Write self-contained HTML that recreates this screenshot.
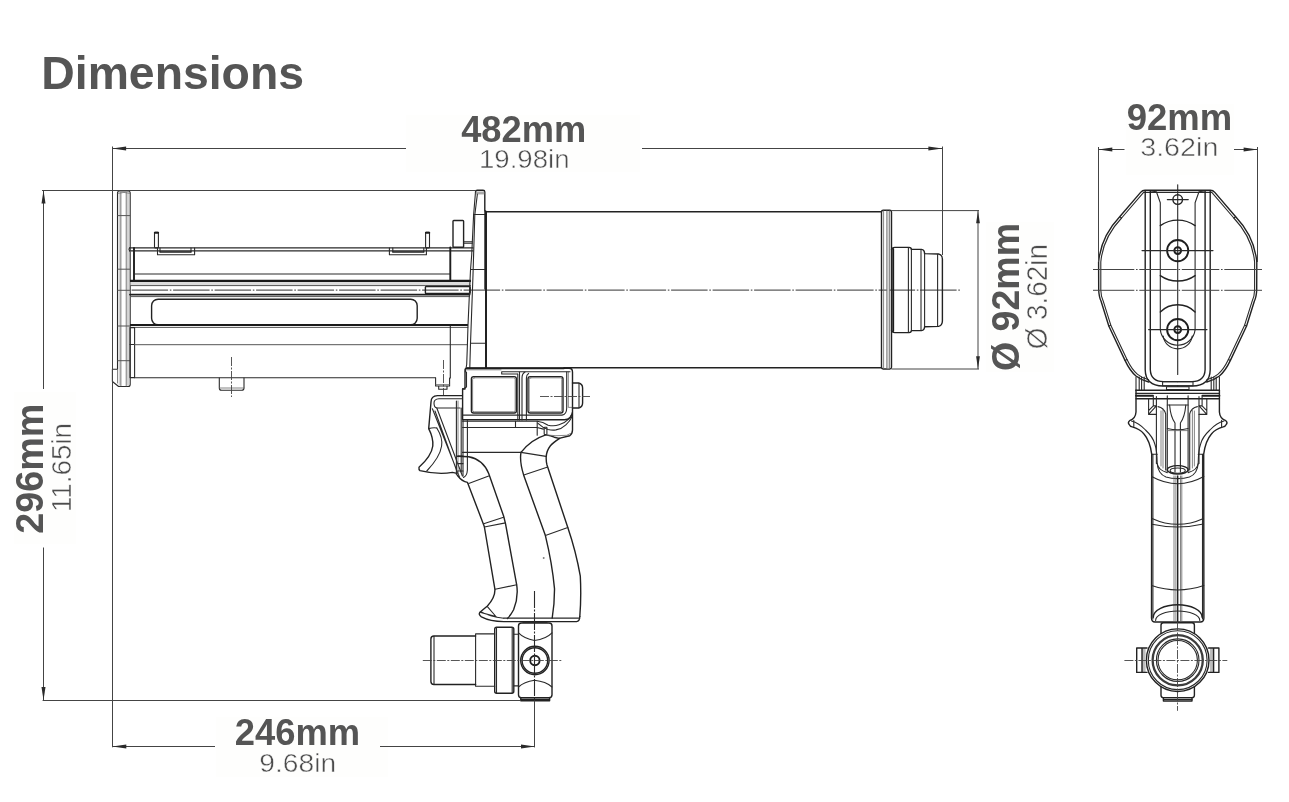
<!DOCTYPE html>
<html lang="en">
<head>
<meta charset="utf-8">
<title>Dimensions</title>
<style>
html,body{margin:0;padding:0;background:#fff;}
body{width:1289px;height:802px;overflow:hidden;font-family:"Liberation Sans",sans-serif;}
svg{display:block}
.t{fill:none;stroke:#2a2a2a;stroke-width:1.1;stroke-linecap:round;stroke-linejoin:round}
.k{fill:none;stroke:#1e1e1e;stroke-width:1.9;stroke-linecap:round;stroke-linejoin:round}
.k2{fill:none;stroke:#1a1a1a;stroke-width:2.2;stroke-linecap:butt}
.m{fill:none;stroke:#222;stroke-width:1.4;stroke-linecap:round;stroke-linejoin:round}
.g{fill:none;stroke:#555;stroke-width:1;stroke-linecap:round}
.f{fill:none;stroke:#666;stroke-width:.8;stroke-linecap:round;stroke-linejoin:round}
.d{fill:none;stroke:#444;stroke-width:1;stroke-linecap:butt}
.d2{fill:none;stroke:#444;stroke-width:1;stroke-linecap:butt}
.c{fill:none;stroke:#333;stroke-width:1;stroke-dasharray:36.5 1.7 1.6 1.7}
.cm{fill:none;stroke:#2a2a2a;stroke-width:1.1;stroke-dasharray:17 1.5 2 1.5}
.cs{fill:none;stroke:#444;stroke-width:.9;stroke-dasharray:9 1.5 2 1.5}
.a{fill:#2a2a2a;stroke:none}
.bg{fill:#fefefd;stroke:none}
.b{font-family:"Liberation Sans",sans-serif;font-weight:700;fill:#555}
.r{font-family:"Liberation Sans",sans-serif;font-weight:400;fill:#4c4c4c;stroke:#fff;stroke-width:.5px}
</style>
</head>
<body>
<svg width="1289" height="802" viewBox="0 0 1289 802">
<rect x="0" y="0" width="1289" height="802" fill="#fff"/>
<g id="side-view">
<line class="c" x1="131.6" y1="290.1" x2="961.5" y2="290.1"/>
<rect x="118.6" y="192.6" width="2.3" height="193" fill="#d2d2d2"/><rect x="126.3" y="192.6" width="2.6" height="193" fill="#d2d2d2"/>
<path class="t" d="M117.5,193 Q117.5,191 119.5,191 L128.2,191 Q130.2,191 130.2,193 L130.2,384.5 Q130.2,386.5 128.2,386.5 L118.6,386.5 L112.4,381.5 L112.4,369.3 L117.5,369.3 Z"/>
<line class="f" x1="120.9" y1="192.4" x2="120.9" y2="386"/>
<line class="f" x1="126.2" y1="192.4" x2="126.2" y2="386"/>
<path class="f" d="M118,193.2 Q124,191.6 129.8,193.2"/>
<line class="g" x1="117.8" y1="215.6" x2="129.8" y2="215.6"/>
<line class="g" x1="117.8" y1="269.2" x2="129.8" y2="269.2"/>
<line class="g" x1="117.8" y1="290.3" x2="129.8" y2="290.3"/>
<line class="g" x1="117.8" y1="326" x2="129.8" y2="326"/>
<line class="g" x1="117.8" y1="360.7" x2="129.8" y2="360.7"/>
<line class="f" x1="117.5" y1="369.3" x2="117.5" y2="383"/>
<line class="t" x1="129.6" y1="247.9" x2="473" y2="247.9"/>
<line class="t" x1="129.6" y1="250.9" x2="473" y2="250.9"/>
<path class="t" d="M129.6,247.9 Q128.4,249.4 129.6,250.9"/>
<line class="f" x1="130.4" y1="251" x2="130.4" y2="281"/>
<line class="k" x1="134" y1="248" x2="134" y2="280.6"/>
<line class="t" x1="134" y1="274" x2="450.3" y2="274"/>
<rect class="t" x="154.5" y="232.3" width="3.9" height="15.6" rx="0.6"/>
<line class="k" x1="154.8" y1="232.7" x2="158.2" y2="232.7"/>
<rect class="t" x="425.6" y="232.3" width="3.9" height="15.6" rx="0.6"/>
<line class="k" x1="425.9" y1="232.7" x2="429.3" y2="232.7"/>
<path class="t" d="M157.5,248 L157.5,254.7 L194.6,254.7 L194.6,248 M160,248 L160,251.8 M191,248 L191,251.8"/>
<line class="m" x1="160" y1="252" x2="191" y2="252"/>
<path class="t" d="M389.4,248 L389.4,254.7 L426.4,254.7 L426.4,248 M392.8,248 L392.8,251.8 M423.8,248 L423.8,251.8"/>
<line class="m" x1="392.8" y1="252" x2="423.8" y2="252"/>
<rect class="m" x="453" y="220.5" width="10.6" height="26.8" rx="0.8"/>
<path class="t" d="M463.6,241.7 L472.5,241.7 M463.6,243.2 L472.3,243.2"/>
<line class="k" x1="450.3" y1="247.5" x2="450.3" y2="281"/>
<rect x="130.5" y="281.6" width="340" height="4" fill="#dcdcdc"/>
<line class="k2" x1="130" y1="280.8" x2="471" y2="280.8"/>
<line class="g" x1="130.5" y1="285.6" x2="470.6" y2="285.6"/>
<line class="k" x1="130" y1="294.6" x2="469.6" y2="294.6"/>
<line class="g" x1="130.5" y1="296.6" x2="469.5" y2="296.6"/>
<rect class="m" x="425.4" y="286.5" width="44.8" height="7" rx="0.8"/>
<rect class="m" x="151.6" y="299.2" width="265.6" height="25.6" rx="6.5"/>
<line class="k2" x1="130" y1="325" x2="468" y2="325"/>
<line class="g" x1="130.5" y1="327.4" x2="467.8" y2="327.4"/>
<rect class="t" x="130" y="327.6" width="4.6" height="50" rx="0"/>
<line class="t" x1="130" y1="344.5" x2="134.6" y2="344.5"/>
<line class="g" x1="134.6" y1="344.7" x2="467.4" y2="344.7"/>
<line class="t" x1="134.6" y1="377.7" x2="435.6" y2="377.7"/>
<line class="t" x1="450.3" y1="326" x2="450.3" y2="378"/>
<path class="t" d="M219.3,378 L219.3,388 Q219.3,390.3 221.6,390.3 L241.6,390.3 Q244,390.3 244,388 L244,378"/>
<line class="f" x1="219.5" y1="388" x2="243.8" y2="388"/>
<line class="cs" x1="231.5" y1="357" x2="231.5" y2="397"/>
<path class="t" d="M435.6,378 L435.6,386 L449.6,386 L449.6,378 M438.7,386 L438.7,389.2 L447,389.2 L447,386"/>
<line class="f" x1="436" y1="384.6" x2="449.3" y2="384.6"/>
<line class="cs" x1="443.5" y1="360" x2="443.5" y2="395.5"/>
<path class="m" d="M475.5,192 Q475.5,190.3 477.3,190.3 L483,190.3 Q484.8,190.3 484.8,192 L484.8,210.6 L486,211.6 L486,367.8"/>
<path class="t" d="M475.5,192 L473.6,215 L471.7,255 L470.5,270 L468,325 L467.4,345 L466.7,364.5 L465.3,372"/>
<path class="t" d="M477.4,194 L474.8,215 L473,275 L470.5,343.5 L469.8,367.8"/>
<line class="f" x1="476" y1="192.2" x2="484.6" y2="192.2"/>
<line class="f" x1="476" y1="193.8" x2="484.6" y2="193.8"/>
<line class="t" x1="484.8" y1="210.6" x2="484.8" y2="289"/>
<line class="t" x1="473.6" y1="214.5" x2="484.8" y2="214.5"/>
<line class="t" x1="471" y1="269.5" x2="484.8" y2="269.5"/>
<line class="t" x1="470.5" y1="343.2" x2="486" y2="343.2"/>
<line class="k" x1="486" y1="211.6" x2="486" y2="367.8"/>
<line class="m" x1="486" y1="211.8" x2="881.5" y2="211.8"/>
<line class="m" x1="564" y1="367.8" x2="881.5" y2="367.8"/>
<path class="m" d="M881.5,212 Q881.5,210.3 883.2,210.3 L889.8,210.3 Q891.5,210.3 891.5,212 L891.5,367.3 Q891.5,369 889.8,369 L883.2,369 Q881.5,369 881.5,367.3 Z"/>
<rect x="886.8" y="211" width="2.8" height="157.4" fill="#d4d4d4"/>
<line class="f" x1="886.8" y1="210.8" x2="886.8" y2="368.6"/>
<line class="f" x1="889.6" y1="210.8" x2="889.6" y2="368.6"/>
<line class="f" x1="883.6" y1="210.8" x2="883.6" y2="368.6"/>
<path class="m" d="M891.5,249.6 Q892,247.4 894.8,247.4 L909,247.4 Q911.4,247.6 911.4,249.4 L921.5,249.4 Q924.4,249.6 924.6,253.6 L938.5,254 Q942.3,254.6 942.4,259 L942.4,321 Q942.3,325.6 938.5,326.4 L924.6,326.8 Q924.4,330.4 921.5,330.6 L911.4,330.6 Q911.4,332.4 909,332.6 L894.8,332.6 Q892,332.6 891.5,330.4"/>
<line class="k" x1="893.2" y1="249" x2="893.2" y2="331"/>
<line class="t" x1="908.4" y1="247.6" x2="908.4" y2="332.4"/>
<line class="t" x1="911.4" y1="249.4" x2="911.4" y2="330.6"/>
<line class="t" x1="921" y1="249.6" x2="921" y2="330.4"/>
<line class="t" x1="924.6" y1="253.6" x2="924.6" y2="326.8"/>
<line class="t" x1="937.6" y1="254.2" x2="937.6" y2="326.2"/>
<path class="m" d="M462.6,389 L465,389 L465,370.3 Q465,368.3 467,368.3 L569,368.3 Q572.5,368.3 572.5,372 L572.5,430 Q572.4,433.8 569.8,435.7 L559,438.4"/>
<path class="m" d="M462.6,389 L462.6,419.8 L564.4,419.8 Q571.6,419.4 572.3,412.6"/>
<path class="t" d="M462.6,415.1 L562,415.1 Q566.6,414.6 566.7,408 L566.7,372"/>
<path class="f" d="M568.3,372 L568.3,407.4 L572.3,407.4"/>
<path class="t" d="M462.6,421.3 L537.2,421.3 Q543,422 548.1,425.2 Q554,426.6 559,424.8 Q565,423 568.3,419.4 Q570.6,417 571.4,414.7"/>
<path class="t" d="M538,423.3 Q543,428 548.1,429.5 Q552,430.4 555.9,429.9 Q562,428.6 565.9,424.8 Q570,421 571.8,417"/>
<path class="t" d="M462.6,427.5 L537.2,427.5 L543.4,429.1 M515.5,421.3 L515.5,427.5 M537.2,421.3 L537.2,435.3"/>
<rect class="t" x="544.2" y="427.2" width="2.7" height="7.3" rx="0.4"/>
<path class="m" d="M545.8,434.9 Q551,435.6 554.3,437.2 L559,438.4"/>
<path class="f" d="M545.8,434.9 L555.9,435.7 L566.7,435.3 L570.6,433.4"/>
<line class="k" x1="467" y1="368.3" x2="563.9" y2="368.3"/>
<line class="f" x1="467" y1="369.8" x2="501" y2="369.8"/>
<path class="t" d="M501.7,374 L501.7,371.8 L570,371.8 M501.7,374 L517.5,374"/>
<rect class="m" x="471.4" y="376.6" width="45" height="36.4" rx="2.2"/>
<rect class="f" x="472.6" y="377.8" width="42.6" height="34" rx="1.6"/>
<rect class="m" x="528" y="376.6" width="35" height="36.4" rx="2.2"/>
<rect class="f" x="529.2" y="377.8" width="32.6" height="34" rx="1.6"/>
<line class="t" x1="517.8" y1="374" x2="517.8" y2="420"/>
<line class="t" x1="519.5" y1="372" x2="519.5" y2="420"/>
<path class="t" d="M522,420 L522,378 Q522,373.6 525,372 M526.4,420 L526.4,378 Q526.4,374.6 528.6,373.4"/>
<path class="t" d="M463,389 L466.5,387 L466.5,372"/>
<path class="m" d="M572.5,383 L578.6,383 Q582.6,384 582.6,388 L582.6,403 Q582.6,407 578.6,408 L572.5,408"/>
<line class="t" x1="579" y1="383.4" x2="579" y2="407.6"/>
<line class="cs" x1="540" y1="396.5" x2="590" y2="396.5"/>
<path class="m" d="M462.4,395.6 L437.5,395.6 Q431,396 431,402 L430,413.6 L428.7,428.6 Q433.5,438 432.8,446 Q431.5,456 419,467.3 Q418.6,469.6 420,470.6 Q438,475 452.4,472.4 L457,473.4"/>
<path class="t" d="M462.4,398.7 L439,398.7 Q434,399 434,403 Q434,407.6 437,408 L460,408"/>
<path class="t" d="M432.4,408.7 L459.3,476.6 M436.8,408 L462.4,476 M435,411 L458,474.4"/>
<path class="t" d="M436.8,428 Q443,438 441.6,446 Q440,457 426.8,471"/>
<path class="t" d="M428.7,428.6 Q433,427.4 436.8,428"/>
<line class="t" x1="456.4" y1="401" x2="456.4" y2="474.8"/>
<line class="f" x1="458" y1="401" x2="458" y2="474.8"/>
<line class="t" x1="461.2" y1="408" x2="461.2" y2="472"/>
<path class="t" d="M463,420 L463,476 M467.4,420.6 L467.4,470 Q467,476 463.5,477.5"/>
<line class="t" x1="458" y1="456" x2="463" y2="456"/>
<line class="t" x1="458" y1="463.6" x2="463" y2="463.6"/>
<line class="t" x1="458" y1="471" x2="463" y2="471"/>
<line class="t" x1="462.5" y1="452.4" x2="521" y2="452.4"/>
<path class="m" d="M457.5,475.5 Q462,481.5 467.5,482.4 L484.3,526.5 L494.9,589.2 Q495.3,597.3 487.4,606 L479.9,612.3 Q478.2,614.6 481.4,616.8 Q490,621.3 503.8,621.6 L576.6,621.6 Q579.6,621.4 579.8,616.5"/>
<path class="m" d="M457.5,456.2 L468.7,456.8 Q483,459.4 488.7,473.6 L503.6,516 L505.5,523.7 L516.7,584.8 Q518.6,597.3 513.6,609.8 Q511,615 507.4,618.5"/>
<path class="t" d="M468.7,483.4 L488.7,476.1 M483.7,523.8 L503.6,517.3 M484.3,527 L505.5,522.9 M495.1,589.2 L516.7,584.8"/>
<path class="t" d="M479.9,612.3 L496.1,616.6 M487.4,606.7 L495.5,616 M481.4,611.9 Q489,616.6 503.8,618.2"/>
<line class="t" x1="503.8" y1="618.1" x2="579.6" y2="618.1"/>
<path class="m" d="M545.8,434.9 Q531,439.6 521,452.4 Q519.4,461.2 523.6,474.9 L545.4,535.6 Q552.2,563.6 554.5,588.6 Q554.6,604 552.2,618"/>
<path class="m" d="M559.7,438.4 Q553,442.6 550.4,445.8 Q546.4,451 546.2,457 Q546,461 547,465 L567.8,527.5 Q575.9,551.2 580.3,576.1 Q581.4,597 579.8,616.5"/>
<path class="t" d="M521,452.4 L546,456.4 M523.8,475.1 L547,467.2 M545.4,535.6 L567.8,527.5"/>
<circle class="f" cx="543.5" cy="558" r="0.5"/>
<path class="m" d="M521.5,623 L549,623 Q552,623 552,626 L552,694.8 Q552,697.8 549,697.8 L521.5,697.8 Q518.5,697.8 518.5,694.8 L518.5,626 Q518.5,623 521.5,623 Z"/>
<path class="t" d="M518.5,632.8 Q524,638.4 534.5,640.5 Q546,639 552,632.8 M518.5,687 Q524,682 534.5,680.3 Q546,681.6 552,687"/>
<line class="m" x1="523" y1="622" x2="547" y2="622"/>
<path class="m" d="M520.8,697.8 L520.8,700.8 L549.6,700.8 L549.6,697.8"/>
<line class="m" x1="521" y1="699.4" x2="549.4" y2="699.4"/>
<circle class="m" cx="534.9" cy="660.5" r="14.2"/>
<circle class="m" cx="534.9" cy="660.5" r="12.8"/>
<circle class="k" cx="534.9" cy="660.5" r="4.7"/>
<rect class="m" x="494.7" y="627.2" width="19.1" height="66.1" rx="2"/>
<line class="t" x1="496.5" y1="627.6" x2="496.5" y2="693"/>
<line class="t" x1="512.2" y1="627.6" x2="512.2" y2="693"/>
<path class="t" d="M513.8,634.2 L518.5,634.2 M513.8,685.9 L518.5,685.9"/>
<path class="t" d="M494.7,633.9 L475.6,633.9 L475.6,686.3 L494.7,686.3"/>
<path class="m" d="M475.6,636 L434,636 Q430.9,636 430.9,639 L430.9,681.5 Q430.9,684.5 434,684.5 L475.6,684.5"/>
<line class="t" x1="434" y1="636.4" x2="434" y2="684.2"/>
<line class="cs" x1="422.8" y1="660.5" x2="561.7" y2="660.5"/>
<line class="cm" x1="534.5" y1="591" x2="534.5" y2="700.5"/>
<line class="d" x1="534.5" y1="700.5" x2="534.5" y2="747.4"/>
</g>
<g id="front-view">
<path class="m" d="M1177.7,190.3 L1145,190.3 Q1142.4,190.3 1140.6,192.4 L1119.7,216.8 Q1101,236.5 1098.6,262 L1098.7,290 Q1099,297 1101,301 L1108.8,326 L1125,360.4 Q1130,371 1136,376 Q1142,380.6 1148.6,382"/>
<g transform="translate(2355.4 0) scale(-1 1)"><path class="m" d="M1177.7,190.3 L1145,190.3 Q1142.4,190.3 1140.6,192.4 L1119.7,216.8 Q1101,236.5 1098.6,262 L1098.7,290 Q1099,297 1101,301 L1108.8,326 L1125,360.4 Q1130,371 1136,376 Q1142,380.6 1148.6,382"/></g>
<path class="t" d="M1177.7,192.4 L1143.6,192.4 L1121.6,218 Q1103,237.5 1100.8,262 L1100.8,290 Q1101,296.4 1103,300.4 L1110.8,325.2 L1127,359.6 Q1132,370 1137.6,374.4 Q1142.6,378.4 1148.6,379.8"/>
<g transform="translate(2355.4 0) scale(-1 1)"><path class="t" d="M1177.7,192.4 L1143.6,192.4 L1121.6,218 Q1103,237.5 1100.8,262 L1100.8,290 Q1101,296.4 1103,300.4 L1110.8,325.2 L1127,359.6 Q1132,370 1137.6,374.4 Q1142.6,378.4 1148.6,379.8"/></g>
<path class="t" d="M1119.7,216.8 L1121.6,218 M1108.8,326 L1110.8,325.2 M1125,360.4 L1127,359.6"/>
<g transform="translate(2355.4 0) scale(-1 1)"><path class="t" d="M1119.7,216.8 L1121.6,218 M1108.8,326 L1110.8,325.2 M1125,360.4 L1127,359.6"/></g>
<path class="m" d="M1145.2,191 L1145.2,369.8 Q1145.5,386 1163,386 L1177.7,386"/>
<g transform="translate(2355.4 0) scale(-1 1)"><path class="m" d="M1145.2,191 L1145.2,369.8 Q1145.5,386 1163,386 L1177.7,386"/></g>
<path class="m" d="M1150.3,191 L1150.3,369.8 Q1150.8,381.6 1163.4,381.6 L1177.7,381.6"/>
<g transform="translate(2355.4 0) scale(-1 1)"><path class="m" d="M1150.3,191 L1150.3,369.8 Q1150.8,381.6 1163.4,381.6 L1177.7,381.6"/></g>
<path class="t" d="M1151,191 L1156.4,191.8 L1160.3,202.7 L1160.3,329.6"/>
<g transform="translate(2355.4 0) scale(-1 1)"><path class="t" d="M1151,191 L1156.4,191.8 L1160.3,202.7 L1160.3,329.6"/></g>
<path class="t" d="M1160.3,329.6 A17.5,17.5 0 0 0 1195.1,329.6"/>
<path class="t" d="M1163.2,336 A14.6,14.6 0 0 0 1192.2,336"/>
<circle class="m" cx="1177.7" cy="199.6" r="4.8"/>
<line class="t" x1="1167.3" y1="199.6" x2="1188.3" y2="199.6"/>
<line class="t" x1="1177.7" y1="184.8" x2="1177.7" y2="374.5"/>
<circle class="k" cx="1177.7" cy="250.6" r="10.6"/>
<circle class="k" cx="1177.7" cy="250.6" r="3.4"/>
<line class="t" x1="1142" y1="250.6" x2="1213" y2="250.6"/>
<path class="m" d="M1160.3,225.6 A30.5,30.5 0 0 1 1195.1,225.6"/>
<path class="m" d="M1160.3,275.6 A30.5,30.5 0 0 0 1195.1,275.6"/>
<circle class="k" cx="1177.7" cy="329.6" r="10.6"/>
<circle class="k" cx="1177.7" cy="329.6" r="3.4"/>
<line class="t" x1="1148.6" y1="329.6" x2="1207" y2="329.6"/>
<path class="m" d="M1160.3,312 A24.6,24.6 0 0 1 1195.1,312"/>
<path class="d" stroke-dasharray="41.3 1.7 1.6 1.7 37.5 1.7 1.6 1.7 37.5 1.7 1.6 1.7 41.3" d="M1093,269.5 L1262,269.5 M1093,290.3 L1262,290.3"/>
<rect class="t" x="1162.6" y="381.7" width="30.4" height="4" rx="0"/>
<rect class="t" x="1166.5" y="386.8" width="22.5" height="2.7" rx="0"/>
<line class="t" x1="1136" y1="377" x2="1136" y2="390.3"/>
<line class="t" x1="1219.4" y1="377" x2="1219.4" y2="390.3"/>
<line class="t" x1="1139.2" y1="377" x2="1139.2" y2="390.3"/>
<line class="t" x1="1216.2" y1="377" x2="1216.2" y2="390.3"/>
<line class="t" x1="1141.6" y1="377" x2="1141.6" y2="390.3"/>
<line class="t" x1="1213.8000000000002" y1="377" x2="1213.8000000000002" y2="390.3"/>
<line class="t" x1="1144.2" y1="377" x2="1144.2" y2="390.3"/>
<line class="t" x1="1211.2" y1="377" x2="1211.2" y2="390.3"/>
<line class="m" x1="1136" y1="390.3" x2="1219.4" y2="390.3"/>
<line class="t" x1="1136" y1="393.4" x2="1219.4" y2="393.4"/>
<line class="m" x1="1136" y1="398.8" x2="1219.4" y2="398.8"/>
<line class="k" x1="1136" y1="395.8" x2="1153" y2="395.8"/>
<line class="k" x1="1202.4" y1="395.8" x2="1219.4" y2="395.8"/>
<path class="m" d="M1136,390.3 L1136,412 Q1135.6,418.6 1129.6,420.7 Q1127.6,422.4 1129,424.2 Q1130,426.4 1132.2,426.9 Q1140,429 1144,434 Q1150,441 1151.7,454.2 L1151.5,618 Q1151.6,622 1155,622 L1177.7,622"/>
<g transform="translate(2355.4 0) scale(-1 1)"><path class="m" d="M1136,390.3 L1136,412 Q1135.6,418.6 1129.6,420.7 Q1127.6,422.4 1129,424.2 Q1130,426.4 1132.2,426.9 Q1140,429 1144,434 Q1150,441 1151.7,454.2 L1151.5,618 Q1151.6,622 1155,622 L1177.7,622"/></g>
<path class="t" d="M1131.4,421 Q1139,423 1145.5,430 Q1153,437 1154.8,444 Q1157,450 1157.2,463.5 Q1158,474 1166,477 Q1171,478.6 1177.7,478.6"/>
<g transform="translate(2355.4 0) scale(-1 1)"><path class="t" d="M1131.4,421 Q1139,423 1145.5,430 Q1153,437 1154.8,444 Q1157,450 1157.2,463.5 Q1158,474 1166,477 Q1171,478.6 1177.7,478.6"/></g>
<path class="t" d="M1133.8,420.4 L1133.8,426.6 M1152,454.2 L1157.2,454.2"/>
<g transform="translate(2355.4 0) scale(-1 1)"><path class="t" d="M1133.8,420.4 L1133.8,426.6 M1152,454.2 L1157.2,454.2"/></g>
<path class="t" d="M1152.9,454.2 L1152.9,619"/>
<g transform="translate(2355.4 0) scale(-1 1)"><path class="t" d="M1152.9,454.2 L1152.9,619"/></g>
<path class="t" d="M1148.6,398.8 L1148.6,414.4 L1156.4,414.4 M1148.6,414.4 L1156.4,405.9 M1153.3,396.5 L1153.3,405.9 L1156.4,405.9 L1156.4,396.5 M1148.6,410.6 L1153.3,405.9"/>
<g transform="translate(2355.4 0) scale(-1 1)"><path class="t" d="M1148.6,398.8 L1148.6,414.4 L1156.4,414.4 M1148.6,414.4 L1156.4,405.9 M1153.3,396.5 L1153.3,405.9 L1156.4,405.9 L1156.4,396.5 M1148.6,410.6 L1153.3,405.9"/></g>
<path class="t" d="M1158,406.6 Q1164,407.6 1165.7,414 L1165.7,470 M1156.4,405.9 L1156.4,463.5"/>
<g transform="translate(2355.4 0) scale(-1 1)"><path class="t" d="M1158,406.6 Q1164,407.6 1165.7,414 L1165.7,470 M1156.4,405.9 L1156.4,463.5"/></g>
<path class="f" d="M1161,411 L1161,466 M1163,409.4 L1163,468"/>
<g transform="translate(2355.4 0) scale(-1 1)"><path class="f" d="M1161,411 L1161,466 M1163,409.4 L1163,468"/></g>
<path class="t" d="M1167.3,395.8 L1167.3,471.3 M1169.6,405 Q1170.6,417 1175,423 L1175,472"/>
<g transform="translate(2355.4 0) scale(-1 1)"><path class="t" d="M1167.3,395.8 L1167.3,471.3 M1169.6,405 Q1170.6,417 1175,423 L1175,472"/></g>
<line class="t" x1="1167.3" y1="405" x2="1188.1" y2="405"/>
<path class="t" d="M1167.3,428.5 Q1177.7,431 1188.1,428.5"/>
<line class="f" x1="1167.3" y1="430.6" x2="1188.1" y2="430.6"/>
<ellipse class="m" cx="1177.7" cy="469.8" rx="10.4" ry="4.2"/>
<ellipse class="t" cx="1177.7" cy="470.6" rx="7.6" ry="2.6"/>
<path class="t" d="M1157.2,463.5 Q1158,470 1167.3,472.6"/>
<g transform="translate(2355.4 0) scale(-1 1)"><path class="t" d="M1157.2,463.5 Q1158,470 1167.3,472.6"/></g>
<line class="f" x1="1174" y1="476" x2="1174" y2="621"/>
<line class="f" x1="1175.9" y1="476" x2="1175.9" y2="621"/>
<line class="m" x1="1177.7" y1="476" x2="1177.7" y2="621"/>
<line class="f" x1="1180.5" y1="476" x2="1180.5" y2="621"/>
<line class="f" x1="1181.8" y1="476" x2="1181.8" y2="621"/>
<path class="t" d="M1151.6,476.6 Q1177.7,491 1203.8,476.6"/>
<path class="t" d="M1152,518.4 Q1177.7,530.2 1203.5,518.4"/>
<path class="t" d="M1152,524.3 Q1177.7,529.9 1203.5,524"/>
<path class="t" d="M1151.6,585.6 Q1177.7,594.4 1203.8,585.6"/>
<path class="m" d="M1153.3,617.3 A24.4,12.5 0 0 1 1202.1,617.3"/>
<path class="t" d="M1155.6,620.4 A22.1,9.4 0 0 1 1199.8,620.4"/>
<path class="m" d="M1161,633.6 L1161,625.2 Q1161,622.8 1163.4,622.8 L1192,622.8 Q1194.4,622.8 1194.4,625.2 L1194.4,633.6"/>
<path class="m" d="M1161,686.6 L1161,695.2 Q1161,697.6 1163.4,697.6 L1192,697.6 Q1194.4,697.6 1194.4,695.2 L1194.4,686.6"/>
<path class="m" d="M1163.4,697.6 L1163.4,701 L1192,701 L1192,697.6"/>
<line class="m" x1="1163.6" y1="699.4" x2="1191.8" y2="699.4"/>
<circle class="m" cx="1177.7" cy="660.2" r="31.3"/>
<circle class="t" cx="1177.7" cy="660.2" r="29.4"/>
<circle cx="1177.7" cy="660.2" r="25.1" fill="none" stroke="#3c3c3c" stroke-width="2.3"/>
<circle class="t" cx="1177.7" cy="660.2" r="21.3"/>
<circle class="t" cx="1177.7" cy="660.2" r="19.7"/>
<rect x="1142" y="648.4" width="3.6" height="23.6" fill="#bdbdbd"/>
<path class="m" d="M1147,648 L1136.7,648 L1136.7,672.4 L1147,672.4 M1142,648 L1142,672.4"/>
<rect x="1210" y="648.4" width="3.6" height="23.6" fill="#bdbdbd"/>
<path class="m" d="M1208.6,648 L1218.9,648 L1218.9,672.4 L1208.6,672.4 M1213.6,648 L1213.6,672.4"/>
<line class="cs" x1="1124.4" y1="660.5" x2="1227.3" y2="660.5"/>
<line class="cs" x1="1177.5" y1="622" x2="1177.5" y2="710.8"/>
</g>
<g id="label-bg">
<rect class="bg" x="406" y="115" width="234" height="57" rx="0"/>
<rect class="bg" x="216" y="717" width="172" height="60" rx="0"/>
<rect class="bg" x="14" y="392" width="62" height="152" rx="0"/>
<rect class="bg" x="986" y="222" width="68" height="150" rx="0"/>
<rect class="bg" x="1126" y="104" width="108" height="71" rx="0"/>
</g>
<g id="dims">
<line class="d" x1="112.5" y1="146.5" x2="112.5" y2="747.3"/>
<line class="d" x1="112" y1="148.5" x2="406" y2="148.5"/>
<line class="d" x1="642" y1="148.5" x2="942.5" y2="148.5"/>
<polygon class="a" points="112.1,148.5 126.1,146.6 126.1,150.4"/>
<polygon class="a" points="942.4,148.5 928.4,146.6 928.4,150.4"/>
<line class="d" x1="942.5" y1="146.5" x2="942.5" y2="255"/>
<line class="d" x1="42" y1="190.5" x2="476" y2="190.5"/>
<line class="d" x1="43.5" y1="190" x2="43.5" y2="389"/>
<line class="d" x1="43.5" y1="547.5" x2="43.5" y2="700.3"/>
<polygon class="a" points="43.5,190.3 41.5,203.60000000000002 45.5,203.60000000000002"/>
<polygon class="a" points="43.5,700.3 41.5,687.0 45.5,687.0"/>
<line class="d" x1="42.6" y1="700.5" x2="520.5" y2="700.5"/>
<line class="d" x1="112" y1="746.5" x2="215" y2="746.5"/>
<line class="d" x1="380" y1="746.5" x2="535" y2="746.5"/>
<polygon class="a" points="112.3,746.5 126.3,744.6 126.3,748.4"/>
<polygon class="a" points="535,746.5 521,744.6 521,748.4"/>
<line class="d2" x1="891.5" y1="210.6" x2="979" y2="210.6"/>
<line class="d2" x1="891.5" y1="369" x2="979" y2="369"/>
<line class="d2" x1="978" y1="210.6" x2="978" y2="369"/>
<polygon class="a" points="978,210.8 976.1,223.3 979.9,223.3"/>
<polygon class="a" points="978,368.8 976.1,356.3 979.9,356.3"/>
<line class="d" x1="1098.5" y1="147" x2="1098.5" y2="262"/>
<line class="d" x1="1257.5" y1="147" x2="1257.5" y2="262"/>
<line class="d" x1="1098.5" y1="149.5" x2="1124.5" y2="149.5"/>
<line class="d" x1="1234" y1="149.5" x2="1257.3" y2="149.5"/>
<polygon class="a" points="1098.3,149.5 1112.3,147.6 1112.3,151.4"/>
<polygon class="a" points="1257.6,149.5 1243.6,147.6 1243.6,151.4"/>
</g>
<g id="labels" opacity="0.999">
<text class="b" x="41.3" y="88.7" font-size="46.5" textLength="262.7" lengthAdjust="spacingAndGlyphs">Dimensions</text>
<text class="b" x="461.2" y="141.5" font-size="36.2" textLength="125" lengthAdjust="spacingAndGlyphs">482mm</text>
<text class="r" x="479" y="167.7" font-size="26.6" textLength="90.5" lengthAdjust="spacingAndGlyphs">19.98in</text>
<text class="b" x="234.8" y="744.8" font-size="36.8" textLength="125.3" lengthAdjust="spacingAndGlyphs">246mm</text>
<text class="r" x="259.3" y="771.9" font-size="26.6" textLength="76.8" lengthAdjust="spacingAndGlyphs">9.68in</text>
<text class="b" x="1126.7" y="129.9" font-size="36.6" textLength="105.5" lengthAdjust="spacingAndGlyphs">92mm</text>
<text class="r" x="1140.2" y="156.2" font-size="26.5" textLength="78.2" lengthAdjust="spacingAndGlyphs">3.62in</text>
<text class="b" transform="translate(42.6 533.7) rotate(-90)" font-size="38.6" textLength="130" lengthAdjust="spacingAndGlyphs">296mm</text>
<text class="r" transform="translate(70.8 512) rotate(-90)" font-size="28" textLength="89" lengthAdjust="spacingAndGlyphs">11.65in</text>
<text class="b" transform="translate(1018.6 371) rotate(-90)" font-size="38" textLength="148" lengthAdjust="spacingAndGlyphs">Ø 92mm</text>
<text class="r" transform="translate(1046.6 349.3) rotate(-90)" font-size="28.6" textLength="105.2" lengthAdjust="spacingAndGlyphs">Ø 3.62in</text>
</g>
</svg>
</body>
</html>
